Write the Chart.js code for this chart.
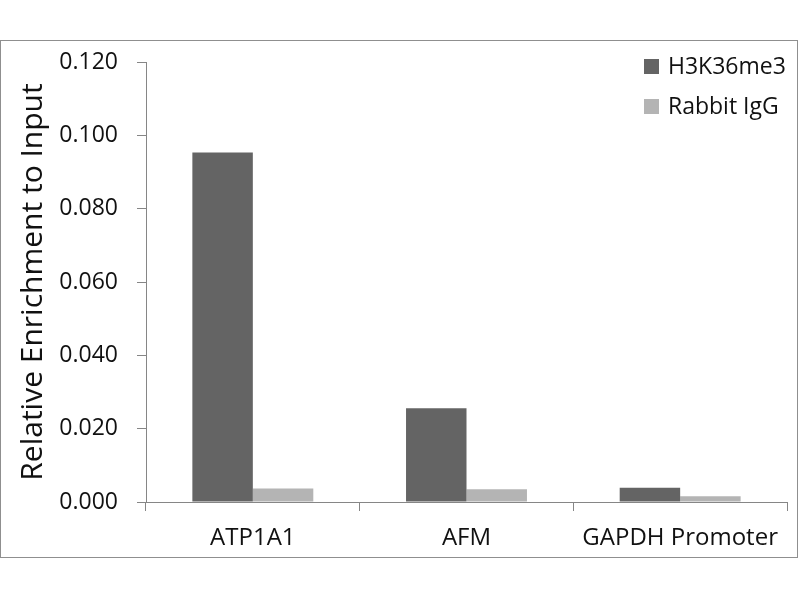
<!DOCTYPE html>
<html>
<head>
<meta charset="utf-8">
<script src="https://cdn.jsdelivr.net/npm/chart.js@4"></script>
<style>
  html, body { margin: 0; padding: 0; background: #fff; }
  #wrap { width: 800px; height: 600px; position: relative; }
</style>
</head>
<body>
<div id="wrap"><canvas id="chipChart"></canvas></div>
<script>
const categories = ['ATP1A1', 'AFM', 'GAPDH Promoter']
const h3k36me3 = [0.0953, 0.0256, 0.0039]
const rabbitIgG = [0.0037, 0.0035, 0.0016]
const seriesNames = ['H3K36me3', 'Rabbit IgG']
const yTicks = { min: 0, max: 0.12, step: 0.02 }

const axisGray = '#868686'

// frame round the whole figure, like the exported picture
const framePlugin = {
  id: 'frame',
  beforeDraw(chart) {
    const ctx = chart.ctx
    ctx.save()
    ctx.fillStyle = '#fff'
    ctx.fillRect(0, 0, chart.width, chart.height)
    ctx.strokeStyle = '#8f8f8f'
    ctx.lineWidth = 1
    ctx.strokeRect(0.5, 40.5, 797, 517)
    ctx.restore()
  }
}

// legend stacked in the top right corner
const cornerLegend = {
  id: 'cornerLegend',
  afterDraw(chart) {
    const ctx = chart.ctx
    ctx.save()
    ctx.font = '23px "Open Sans"'
    ctx.textBaseline = 'middle'
    chart.data.datasets.forEach((ds, i) => {
      const y = 59 + i * 40
      ctx.fillStyle = ds.backgroundColor
      ctx.fillRect(644, y, 15, 15)
      ctx.fillStyle = '#111'
      ctx.fillText(ds.label, 668, y + 8)
    })
    ctx.restore()
  }
}

const ctx = document.getElementById('chipChart').getContext('2d')

new Chart(ctx, {
  type: 'bar',
  data: {
    labels: categories,
    datasets: [
      { label: seriesNames[0], data: h3k36me3, backgroundColor: '#646464' },
      { label: seriesNames[1], data: rabbitIgG, backgroundColor: '#b4b4b4' }
    ]
  },
  options: {
    responsive: true,
    maintainAspectRatio: false,
    animation: false,
    layout: { padding: { left: 0, right: 13, top: 62, bottom: 0 } },
    datasets: {
      bar: { categoryPercentage: 0.566, barPercentage: 1.0 }
    },
    plugins: {
      legend: { display: false },
      tooltip: { enabled: false }
    },
    scales: {
      x: {
        grid: { drawOnChartArea: false, drawTicks: true, tickLength: 9, color: axisGray, offset: true },
        border: { display: true, color: axisGray },
        ticks: { color: '#111', padding: 13, font: { family: 'Open Sans', size: 24 }, maxRotation: 0 },
        afterFit(scale) { scale.height = 98 }
      },
      y: {
        min: yTicks.min,
        max: yTicks.max,
        grid: { drawOnChartArea: false, drawTicks: true, tickLength: 9, color: axisGray },
        border: { display: true, color: axisGray },
        ticks: {
          stepSize: yTicks.step,
          color: '#111',
          padding: 19,
          font: { family: 'Open Sans', size: 23 },
          callback: (v) => v.toFixed(3)
        },
        title: {
          display: true,
          text: 'Relative Enrichment to Input',
          color: '#111',
          font: { family: 'Open Sans', size: 30 },
          padding: { top: 15, bottom: 0 }
        },
        afterFit(scale) { scale.width = 146 }
      }
    }
  },
  plugins: [framePlugin, cornerLegend]
})
</script>
</body>
</html>
